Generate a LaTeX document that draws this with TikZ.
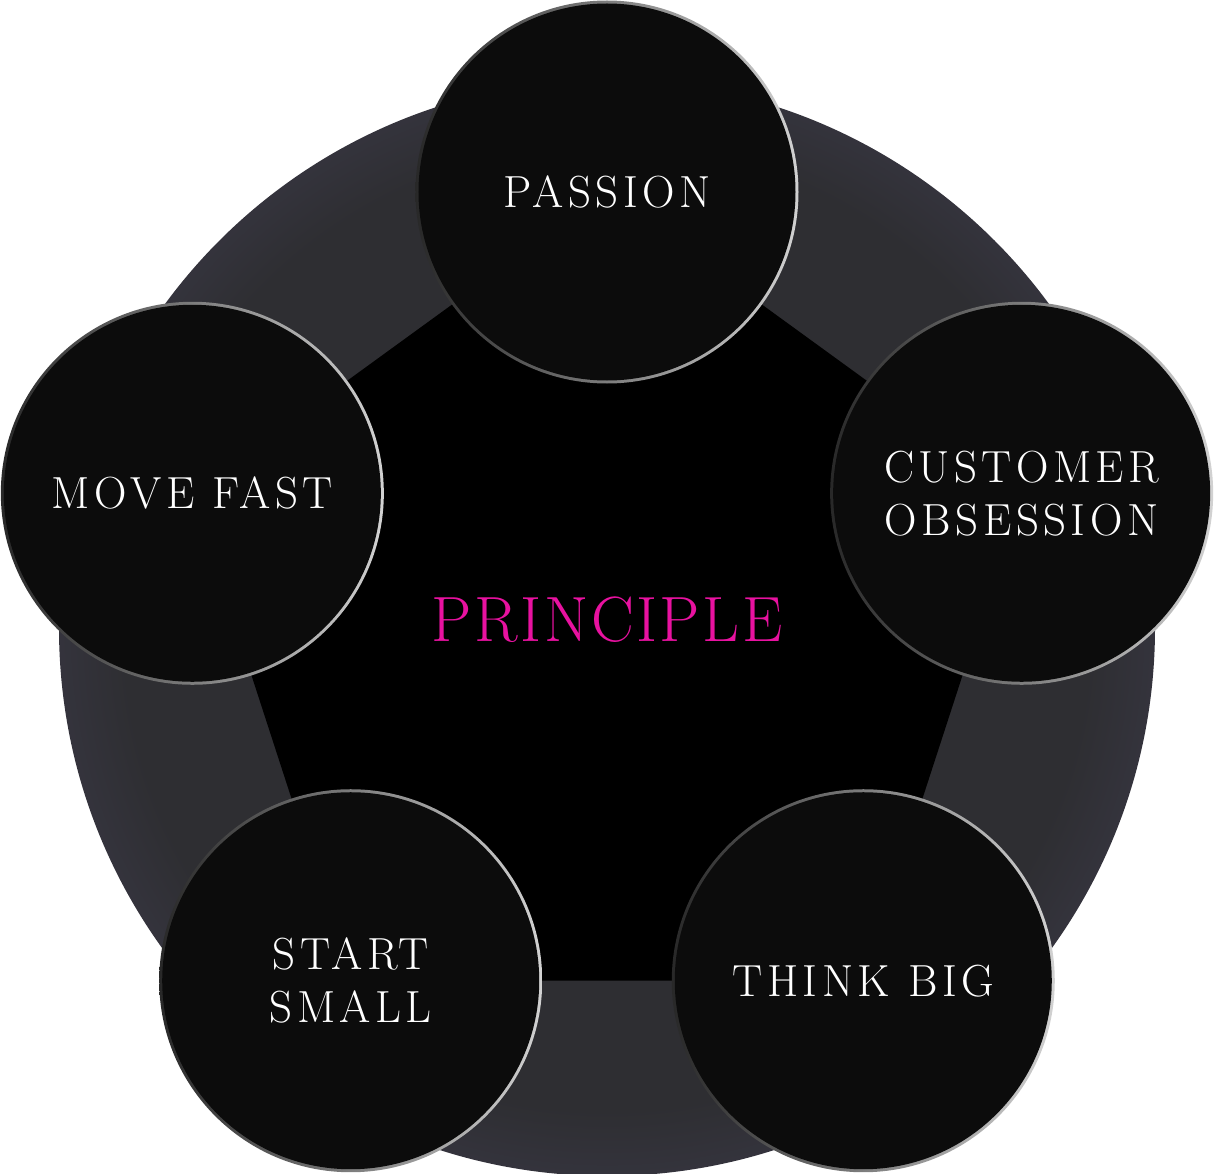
\documentclass[tikz,border=0pt]{standalone}
\usepackage{fontspec}
\setmainfont{Latin Modern Roman}
\usetikzlibrary{backgrounds}

\definecolor{bandin}{RGB}{46,46,50}
\definecolor{bandmid}{RGB}{56,55,67}
\definecolor{bandout}{RGB}{61,59,77}
\definecolor{discfill}{RGB}{12,12,12}
\definecolor{rimdark}{RGB}{40,40,40}
\definecolor{rimlight}{RGB}{210,210,210}
\definecolor{rose}{RGB}{232,18,160}

% 外环的径向渐变
\pgfdeclareradialshading{bandshade}{\pgfpoint{0bp}{0bp}}{color(0bp)=(bandin); color(22bp)=(bandin); color(27bp)=(bandmid); color(35bp)=(bandout); color(50bp)=(bandout)}

\begin{document}
\begin{tikzpicture}[
        x=1pt,
        y=1pt,
        % 小圆样式
        disc/.style={
            circle,
            fill=discfill,
            minimum size=377pt,
            inner sep=0pt,
            text=white,
            align=center,
            font=\fontsize{45}{53}\selectfont\addfontfeature{LetterSpace=10}
        },
        % 圆边的渐变
        rim/.style={
            left color=rimdark,
            right color=rimlight
        },
        % 中心文字
        title_text/.style={
            text=rose,
            inner sep=0pt,
            font=\fontsize{64}{64}\selectfont\addfontfeature{LetterSpace=4}
        }
    ]

    \useasboundingbox (-607,-545) rectangle (607,628);

    % --- 1. 五个原则 (从上方顺时针) ---
    \coordinate (center) at (0,0);

    \node (passion)  [disc] at (90:436)   {PASSION};
    \node (customer) [disc] at (18:436)   {CUSTOMER\\OBSESSION};
    \node (think)    [disc] at (-54:436)  {THINK BIG};
    \node (start)    [disc] at (-126:436) {START\\SMALL};
    \node (move)     [disc] at (162:436)  {MOVE FAST};

    % 中心
    \node (principle) [title_text] at (0,8) {PRINCIPLE};

    % --- 2. 背景: 大圆, 五边形, 圆边 ---
    \begin{scope}[on background layer]
        \shade[shading=bandshade] (center) circle (548);
        \fill[black] (passion.center) -- (customer.center) -- (think.center)
            -- (start.center) -- (move.center) -- cycle;
        \foreach \n in {passion,customer,think,start,move}
            \shade[rim] (\n.center) circle (191.5);
    \end{scope}

\end{tikzpicture}
\end{document}
